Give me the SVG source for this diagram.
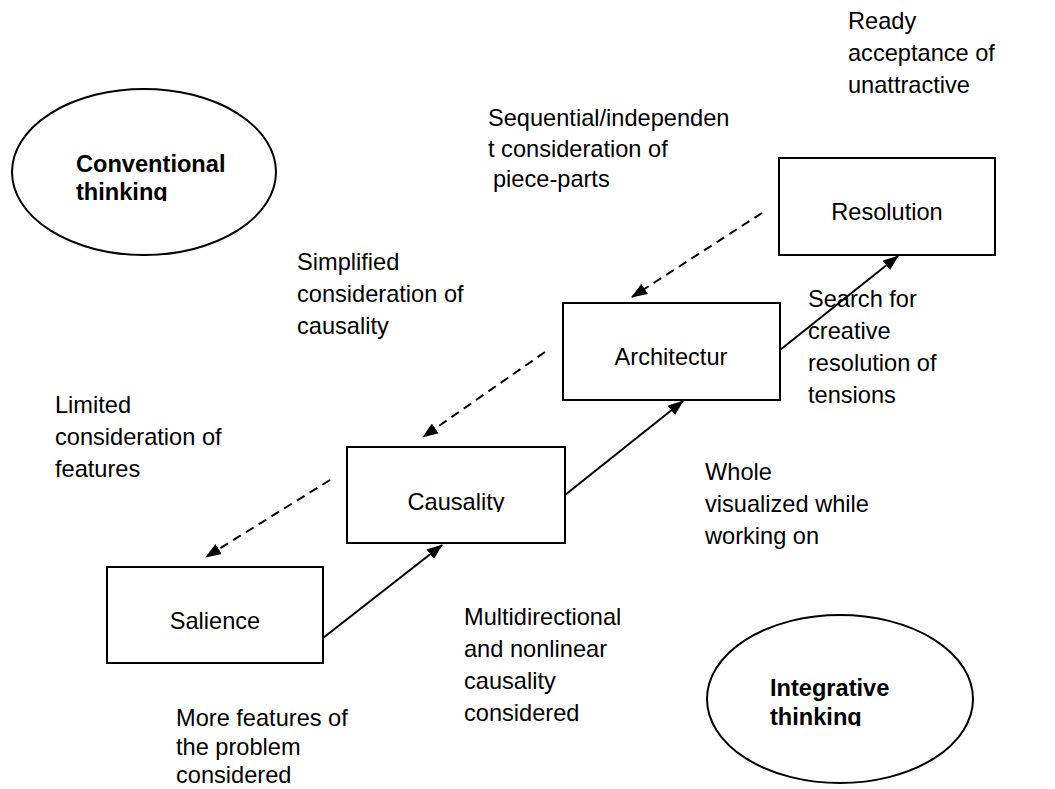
<svg xmlns="http://www.w3.org/2000/svg" width="1055" height="789" viewBox="0 0 1055 789">
<style>
  text { font-family: "Liberation Sans", Arial, sans-serif; font-size: 23.6px; fill: #000; }
  .b { font-weight: bold; }
  .box { fill: #fff; stroke: #000; stroke-width: 2; }
  .ell { fill: #fff; stroke: #000; stroke-width: 2; }
  .solid { stroke: #000; stroke-width: 2; fill: none; }
  .dash { stroke: #000; stroke-width: 2; fill: none; stroke-dasharray: 9 6; }
</style>
<defs>
  <marker id="ah" viewBox="0 0 16 12" refX="15" refY="6" markerWidth="16" markerHeight="12" markerUnits="userSpaceOnUse" orient="auto">
    <path d="M0,0 L16,6 L0,12 Z" fill="#000"/>
  </marker>
  <clipPath id="clipConv"><rect x="0" y="0" width="400" height="201"/></clipPath>
  <clipPath id="clipInt"><rect x="600" y="600" width="400" height="126"/></clipPath>
  <clipPath id="clipCaus"><rect x="347" y="447" width="218" height="65"/></clipPath>
</defs>
<rect width="1055" height="789" fill="#fff"/>

<g id="conventional">
  <ellipse class="ell" cx="144" cy="172" rx="132" ry="83"/>
  <g clip-path="url(#clipConv)">
    <text class="b" x="76" y="172">Conventional</text>
    <text class="b" x="76" y="200">thinking</text>
  </g>
</g>

<g id="integrative">
  <ellipse class="ell" cx="840" cy="699" rx="133" ry="84"/>
  <g clip-path="url(#clipInt)">
    <text class="b" x="770" y="696">Integrative</text>
    <text class="b" x="770" y="725">thinking</text>
  </g>
</g>

<g id="salience">
  <rect class="box" x="107" y="567" width="216" height="96"/>
  <text x="215" y="629" text-anchor="middle">Salience</text>
</g>

<g id="causality">
  <rect class="box" x="347" y="447" width="218" height="96"/>
  <g clip-path="url(#clipCaus)"><text x="456" y="510" text-anchor="middle">Causality</text></g>
</g>

<g id="architecture">
  <rect class="box" x="563" y="303" width="217" height="97"/>
  <text x="671" y="365" text-anchor="middle">Architectur</text>
</g>

<g id="resolution">
  <rect class="box" x="779" y="158" width="216" height="97"/>
  <text x="887" y="220" text-anchor="middle">Resolution</text>
</g>

<g id="connectors">
  <line class="solid" x1="323" y1="638" x2="442" y2="545" marker-end="url(#ah)"/>
  <line class="solid" x1="565" y1="495" x2="683" y2="401" marker-end="url(#ah)"/>
  <line class="solid" x1="780" y1="350" x2="898" y2="256" marker-end="url(#ah)"/>
  <line class="dash" x1="330" y1="480" x2="206" y2="557" marker-end="url(#ah)"/>
  <line class="dash" x1="545" y1="352" x2="423" y2="437" marker-end="url(#ah)"/>
  <line class="dash" x1="762" y1="213" x2="632" y2="297" marker-end="url(#ah)"/>
</g>

<g id="labels">
  <text x="848" y="29">Ready</text>
  <text x="848" y="61">acceptance of</text>
  <text x="848" y="93">unattractive</text>

  <text x="488" y="126">Sequential/independen</text>
  <text x="488" y="157">t consideration of</text>
  <text x="493" y="187">piece-parts</text>

  <text x="297" y="270">Simplified</text>
  <text x="297" y="302">consideration of</text>
  <text x="297" y="334">causality</text>

  <text x="55" y="413">Limited</text>
  <text x="55" y="445">consideration of</text>
  <text x="55" y="477">features</text>

  <text x="808" y="307">Search for</text>
  <text x="808" y="339">creative</text>
  <text x="808" y="371">resolution of</text>
  <text x="808" y="403">tensions</text>

  <text x="705" y="480">Whole</text>
  <text x="705" y="512">visualized while</text>
  <text x="705" y="544">working on</text>

  <text x="464" y="625">Multidirectional</text>
  <text x="464" y="657">and nonlinear</text>
  <text x="464" y="689">causality</text>
  <text x="464" y="721">considered</text>

  <text x="176" y="726">More features of</text>
  <text x="176" y="755">the problem</text>
  <text x="176" y="783">considered</text>
</g>
</svg>
